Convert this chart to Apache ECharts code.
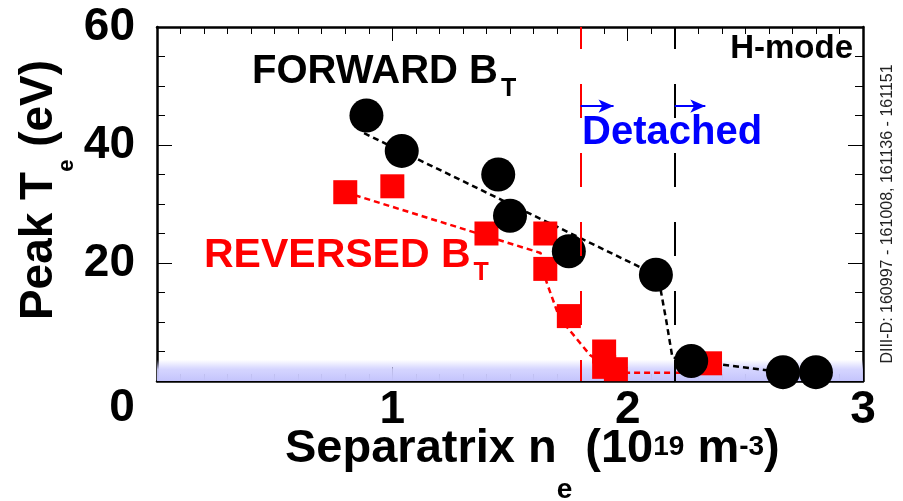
<!DOCTYPE html>
<html>
<head>
<meta charset="utf-8">
<script src="https://cdn.jsdelivr.net/npm/echarts@6/dist/echarts.min.js"></script>
<style>
  html, body { margin: 0; padding: 0; background: #ffffff; }
  #chart { width: 903px; height: 501px; }
</style>
</head>
<body>
<div id="chart"></div>
<script>
// Separatrix density (10^19 m^-3) vs. peak target Te (eV)
const densityForward  = [0.89, 1.04, 1.45, 1.50, 1.75, 2.12, 2.27, 2.66, 2.80];
const teForward       = [45, 39, 35, 28, 22, 18, 3.4, 1.5, 1.5];
const densityReversed = [0.80, 1.00, 1.40, 1.65, 1.65, 1.75, 1.90, 1.90, 1.95, 2.35];
const teReversed      = [32, 33, 25, 25, 19, 11, 5.0, 2.4, 2.0, 3.0];

// Hand-drawn guide curves through each data set
const guideForwardX  = [0.88, 2.12, 2.14, 2.165, 2.19, 2.27, 2.66];
const guideForwardY  = [42, 18, 15.5, 10, 4, 3.4, 1.5];
const guideReversedX = [0.80, 1.63, 1.655, 1.71, 1.84, 1.95, 2.27];
const guideReversedY = [32, 21.7, 16.8, 10.7, 4.4, 1.4, 1.4];

// Detachment onset densities and the "Detached" arrows
const onsetReversed = 1.8;
const onsetForward  = 2.2;
const arrowLevel    = 46.6;
const arrowEnds     = [1.94, 2.33];
const detachedTe    = 3.6;   // top of the shaded detached band

// Axis ticks
const xTicks = [0, 1, 2, 3];
const yTicks = [0, 20, 40, 60];

const FONT = "'Liberation Sans', Arial, Helvetica, sans-serif";
const zip = (xs, ys) => xs.map((x, i) => [x, ys[i]]);

const xMin = xTicks[0], xMax = xTicks[xTicks.length - 1];
const yMin = yTicks[0], yMax = yTicks[yTicks.length - 1];

const axisLineDef = () => ({ show: true, onZero: false, lineStyle: { color: '#000', width: 2.5 } });

function xAxisDef(position, showLabel) {
  return {
    type: 'value', position, min: xMin, max: xMax, interval: xTicks[1] - xTicks[0],
    axisLine: axisLineDef(),
    axisTick: { show: true, inside: true, length: 14, lineStyle: { color: '#000' } },
    minorTick: { show: true, splitNumber: 10, length: 7, lineStyle: { color: '#000' } },
    splitLine: { show: false },
    axisLabel: {
      show: showLabel, margin: 6, fontSize: 46, fontWeight: 'bold', fontFamily: FONT, color: '#000',
      formatter: v => (v === 0 ? '' : String(v))
    }
  };
}
function yAxisDef(position, showLabel) {
  return {
    type: 'value', position, min: yMin, max: yMax, interval: yTicks[1] - yTicks[0],
    axisLine: axisLineDef(),
    axisTick: { show: true, inside: true, length: 15, lineStyle: { color: '#000' } },
    minorTick: { show: true, splitNumber: 4, length: 8, lineStyle: { color: '#000' } },
    splitLine: { show: false },
    axisLabel: {
      show: showLabel, margin: 22, fontSize: 46, fontWeight: 'bold', fontFamily: FONT, color: '#000',
      formatter: v => (v === 0 ? '' : String(v))
    }
  };
}

const chart = echarts.init(document.getElementById('chart'), null, { renderer: 'canvas' });

const boldTok = (size, extra) => Object.assign({ fontSize: size, fontWeight: 'bold', fontFamily: FONT }, extra || {});

chart.setOption({
  animation: false,
  backgroundColor: '#ffffff',
  grid: { left: 157, right: 40, top: 27, bottom: 120, containLabel: false },
  xAxis: [xAxisDef('bottom', true), xAxisDef('top', false)],
  yAxis: [yAxisDef('left', true), yAxisDef('right', false)],
  series: [
    {
      name: 'detached band', type: 'line', data: [], z: -1, silent: true,
      markArea: {
        silent: true,
        itemStyle: {
          color: {
            type: 'linear', x: 0, y: 0, x2: 0, y2: 1,
            colorStops: [
              { offset: 0, color: 'rgba(205,205,255,0)' },
              { offset: 0.45, color: 'rgba(208,208,255,0.9)' },
              { offset: 1, color: 'rgb(196,196,252)' }
            ]
          }
        },
        data: [[{ coord: [xMin, yMin] }, { coord: [xMax, detachedTe] }]]
      }
    },
    {
      name: 'REVERSED guide', type: 'line', z: 2, silent: true,
      data: zip(guideReversedX, guideReversedY),
      symbol: 'none', showSymbol: false,
      lineStyle: { color: '#ff0000', width: 2.5, type: [6, 4] },
      markLine: {
        silent: true, symbol: 'none', label: { show: false },
        lineStyle: { width: 2, type: [34, 35], dashOffset: 12 },
        data: [
          [{ coord: [onsetReversed, yMax], lineStyle: { color: '#ff0000' } }, { coord: [onsetReversed, yMin] }],
          [{ coord: [onsetForward, yMax], lineStyle: { color: '#000000' } }, { coord: [onsetForward, yMin] }]
        ]
      }
    },
    {
      name: 'FORWARD guide', type: 'line', z: 2, silent: true,
      data: zip(guideForwardX, guideForwardY),
      symbol: 'none', showSymbol: false,
      lineStyle: { color: '#000000', width: 2.5, type: [6, 4] },
      markLine: {
        silent: true, symbol: ['none', 'arrow'], symbolSize: [10, 15], label: { show: false },
        lineStyle: { color: '#0000ff', width: 2, type: 'solid' },
        data: [
          [{ coord: [onsetReversed, arrowLevel] }, { coord: [arrowEnds[0], arrowLevel] }],
          [{ coord: [onsetForward, arrowLevel] }, { coord: [arrowEnds[1], arrowLevel] }]
        ]
      }
    },
    {
      name: 'REVERSED BT', type: 'scatter', z: 3,
      data: zip(densityReversed, teReversed),
      symbol: 'rect', symbolSize: 24,
      itemStyle: { color: '#ff0000', opacity: 1 }
    },
    {
      name: 'FORWARD BT', type: 'scatter', z: 4,
      data: zip(densityForward, teForward),
      symbol: 'circle', symbolSize: 34,
      itemStyle: { color: '#000000', opacity: 1 }
    }
  ],
  graphic: [
    { // shared origin label
      type: 'text', x: 122, y: 408, z: 20,
      style: { text: '0', fill: '#000', align: 'center', verticalAlign: 'middle',
               fontSize: 46, fontWeight: 'bold', fontFamily: FONT }
    },
    { // y axis title
      type: 'text', x: 39, y: 190, rotation: Math.PI / 2, z: 20,
      style: {
        text: '{m|Peak T}{s|e}{m| (eV)}', fill: '#000', align: 'center', verticalAlign: 'middle',
        rich: { m: boldTok(46, { lineHeight: 48 }), s: boldTok(22, { lineHeight: 22, padding: [56, 0, 0, 0] }) }
      }
    },
    { // x axis title
      type: 'text', x: 285, y: 449, z: 20,
      style: {
        text: '{m|Separatrix n}{s|e}{m| (10}{p|19}{m| m}{p|-3}{m|)}', fill: '#000', align: 'left', verticalAlign: 'middle',
        rich: {
          m: boldTok(47, { lineHeight: 48 }),
          s: boldTok(28, { lineHeight: 28, padding: [83, 0, 0, 0] }),
          p: boldTok(28, { lineHeight: 28, padding: [0, 0, 4, 0] })
        }
      }
    },
    {
      type: 'text', x: 252, y: 72, z: 20,
      style: {
        text: '{m|FORWARD B}{s|T}', fill: '#000', align: 'left', verticalAlign: 'middle',
        rich: { m: boldTok(40, { lineHeight: 42 }), s: boldTok(25, { lineHeight: 25, padding: [34, 0, 0, 3] }) }
      }
    },
    {
      type: 'text', x: 204, y: 256, z: 20,
      style: {
        text: '{m|REVERSED B}{s|T}', fill: '#ff0000', align: 'left', verticalAlign: 'middle',
        rich: { m: boldTok(41, { lineHeight: 42 }), s: boldTok(25, { lineHeight: 25, padding: [34, 0, 0, 3] }) }
      }
    },
    {
      type: 'text', x: 853, y: 49, z: 20,
      style: { text: 'H-mode', fill: '#000', align: 'right', verticalAlign: 'middle',
               fontSize: 33, fontWeight: 'bold', fontFamily: FONT }
    },
    {
      type: 'text', x: 582, y: 133, z: 20,
      style: { text: 'Detached', fill: '#0000ff', align: 'left', verticalAlign: 'middle',
               fontSize: 40, fontWeight: 'bold', fontFamily: FONT }
    },
    {
      type: 'text', x: 888, y: 214, rotation: Math.PI / 2, z: 20,
      style: { text: 'DIII-D: 160997 - 161008, 161136 - 161151', fill: '#222', align: 'center', verticalAlign: 'middle',
               fontSize: 16, fontFamily: FONT }
    }
  ]
});
</script>
</body>
</html>
